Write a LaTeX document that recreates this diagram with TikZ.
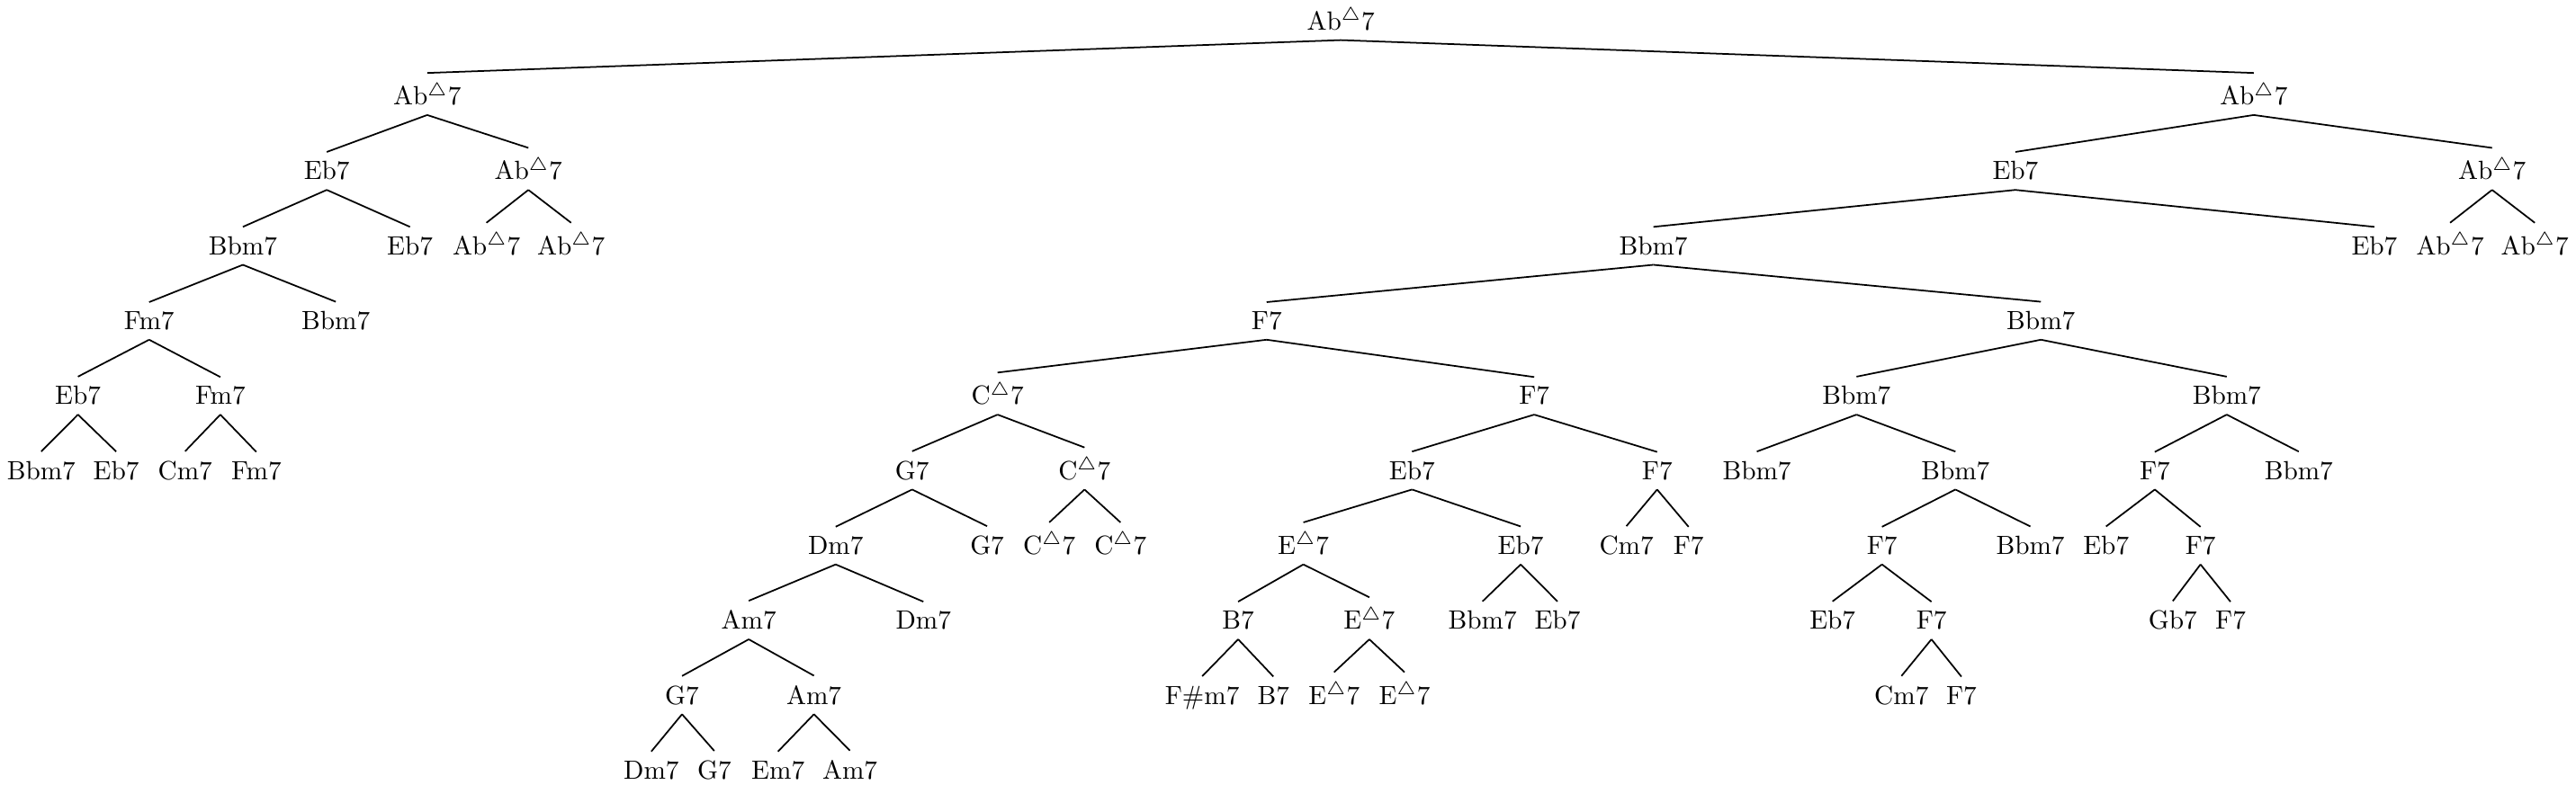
\documentclass[tikz,border=0pt]{standalone}
\usepackage{amsmath}
\usepackage{amssymb}
\usetikzlibrary{positioning}

\newcommand{\mj}{$^\triangle$}

\begin{document}
\begin{tikzpicture}[semithick]
        \tikzset{
            % Define style for chord labels
            chord/.style={
                    anchor=base,
                    inner sep=3.33pt},
            % Define style for tree branches
            ast/.style={
                    draw=black,
                    semithick},
        }
        \useasboundingbox (0,0.40) rectangle (34.37,-10.07);

        % Level 0 and 1
        \node[chord] (s0) at (17.89,0) {Ab\mj7};
        \node[chord] (s1a) at (5.70,-1) {Ab\mj7};
        \node[chord] (s1b) at (30.07,-1) {Ab\mj7};

        % Level 2
        \node[chord] (s2a) at (4.36,-2) {Eb7};
        \node[chord] (s2b) at (7.05,-2) {Ab\mj7};
        \node[chord] (s2c) at (26.89,-2) {Eb7};
        \node[chord] (s2d) at (33.25,-2) {Ab\mj7};

        % Level 3
        \node[chord] (s3a) at (3.24,-3) {Bbm7};
        \node[chord] (s3b) at (5.47,-3) {Eb7};
        \node[chord] (s3c) at (6.49,-3) {Ab\mj7};
        \node[chord] (s3d) at (7.62,-3) {Ab\mj7};
        \node[chord] (s3e) at (22.06,-3) {Bbm7};
        \node[chord] (s3f) at (31.68,-3) {Eb7};
        \node[chord] (s3g) at (32.69,-3) {Ab\mj7};
        \node[chord] (s3h) at (33.82,-3) {Ab\mj7};

        % Level 4
        \node[chord] (s4a) at (1.99,-4) {Fm7};
        \node[chord] (s4b) at (4.48,-4) {Bbm7};
        \node[chord] (s4c) at (16.90,-4) {F7};
        \node[chord] (s4d) at (27.23,-4) {Bbm7};

        % Level 5
        \node[chord] (s5a) at (1.04,-5) {Eb7};
        \node[chord] (s5b) at (2.94,-5) {Fm7};
        \node[chord] (s5c) at (13.31,-5) {C\mj7};
        \node[chord] (s5d) at (20.47,-5) {F7};
        \node[chord] (s5e) at (24.77,-5) {Bbm7};
        \node[chord] (s5f) at (29.71,-5) {Bbm7};

        % Level 6
        \node[chord] (s6a) at (0.55,-6) {Bbm7};
        \node[chord] (s6b) at (1.55,-6) {Eb7};
        \node[chord] (s6c) at (2.47,-6) {Cm7};
        \node[chord] (s6d) at (3.42,-6) {Fm7};
        \node[chord] (s6e) at (12.17,-6) {G7};
        \node[chord] (s6f) at (14.47,-6) {C\mj7};
        \node[chord] (s6g) at (18.84,-6) {Eb7};
        \node[chord] (s6h) at (22.11,-6) {F7};
        \node[chord] (s6i) at (23.44,-6) {Bbm7};
        \node[chord] (s6j) at (26.09,-6) {Bbm7};
        \node[chord] (s6k) at (28.75,-6) {F7};
        \node[chord] (s6l) at (30.67,-6) {Bbm7};

        % Level 7
        \node[chord] (s7a) at (11.15,-7) {Dm7};
        \node[chord] (s7b) at (13.17,-7) {G7};
        \node[chord] (s7c) at (14.00,-7) {C\mj7};
        \node[chord] (s7d) at (14.95,-7) {C\mj7};
        \node[chord] (s7e) at (17.39,-7) {E\mj7};
        \node[chord] (s7f) at (20.29,-7) {Eb7};
        \node[chord] (s7g) at (21.70,-7) {Cm7};
        \node[chord] (s7h) at (22.53,-7) {F7};
        \node[chord] (s7i) at (25.11,-7) {F7};
        \node[chord] (s7j) at (27.09,-7) {Bbm7};
        \node[chord] (s7k) at (28.10,-7) {Eb7};
        \node[chord] (s7l) at (29.36,-7) {F7};

        % Level 8
        \node[chord] (s8a) at (9.99,-8) {Am7};
        \node[chord] (s8b) at (12.32,-8) {Dm7};
        \node[chord] (s8c) at (16.52,-8) {B7};
        \node[chord] (s8d) at (18.27,-8) {E\mj7};
        \node[chord] (s8e) at (19.78,-8) {Bbm7};
        \node[chord] (s8f) at (20.78,-8) {Eb7};
        \node[chord] (s8g) at (24.45,-8) {Eb7};
        \node[chord] (s8h) at (25.77,-8) {F7};
        \node[chord] (s8i) at (28.99,-8) {Gb7};
        \node[chord] (s8j) at (29.76,-8) {F7};

        % Level 9
        \node[chord] (s9a) at (9.10,-9) {G7};
        \node[chord] (s9b) at (10.86,-9) {Am7};
        \node[chord] (s9c) at (16.04,-9) {F\#m7};
        \node[chord] (s9d) at (16.99,-9) {B7};
        \node[chord] (s9e) at (17.80,-9) {E\mj7};
        \node[chord] (s9f) at (18.74,-9) {E\mj7};
        \node[chord] (s9g) at (25.37,-9) {Cm7};
        \node[chord] (s9h) at (26.17,-9) {F7};

        % Level 10
        \node[chord] (s10a) at (8.69,-10) {Dm7};
        \node[chord] (s10b) at (9.53,-10) {G7};
        \node[chord] (s10c) at (10.38,-10) {Em7};
        \node[chord] (s10d) at (11.34,-10) {Am7};

        % Connect parents with their children
        \draw[ast]
        (s0.south) edge (s1a.north)
        (s0.south) edge (s1b.north)
        (s1a.south) edge (s2a.north)
        (s1a.south) edge (s2b.north)
        (s1b.south) edge (s2c.north)
        (s1b.south) edge (s2d.north)
        (s2a.south) edge (s3a.north)
        (s2a.south) edge (s3b.north)
        (s2b.south) edge (s3c.north)
        (s2b.south) edge (s3d.north)
        (s2c.south) edge (s3e.north)
        (s2c.south) edge (s3f.north)
        (s2d.south) edge (s3g.north)
        (s2d.south) edge (s3h.north)
        (s3a.south) edge (s4a.north)
        (s3a.south) edge (s4b.north)
        (s3e.south) edge (s4c.north)
        (s3e.south) edge (s4d.north)
        (s4a.south) edge (s5a.north)
        (s4a.south) edge (s5b.north)
        (s4c.south) edge (s5c.north)
        (s4c.south) edge (s5d.north)
        (s4d.south) edge (s5e.north)
        (s4d.south) edge (s5f.north)
        (s5a.south) edge (s6a.north)
        (s5a.south) edge (s6b.north)
        (s5b.south) edge (s6c.north)
        (s5b.south) edge (s6d.north)
        (s5c.south) edge (s6e.north)
        (s5c.south) edge (s6f.north)
        (s5d.south) edge (s6g.north)
        (s5d.south) edge (s6h.north)
        (s5e.south) edge (s6i.north)
        (s5e.south) edge (s6j.north)
        (s5f.south) edge (s6k.north)
        (s5f.south) edge (s6l.north)
        (s6e.south) edge (s7a.north)
        (s6e.south) edge (s7b.north)
        (s6f.south) edge (s7c.north)
        (s6f.south) edge (s7d.north)
        (s6g.south) edge (s7e.north)
        (s6g.south) edge (s7f.north)
        (s6h.south) edge (s7g.north)
        (s6h.south) edge (s7h.north)
        (s6j.south) edge (s7i.north)
        (s6j.south) edge (s7j.north)
        (s6k.south) edge (s7k.north)
        (s6k.south) edge (s7l.north)
        (s7a.south) edge (s8a.north)
        (s7a.south) edge (s8b.north)
        (s7e.south) edge (s8c.north)
        (s7e.south) edge (s8d.north)
        (s7f.south) edge (s8e.north)
        (s7f.south) edge (s8f.north)
        (s7i.south) edge (s8g.north)
        (s7i.south) edge (s8h.north)
        (s7l.south) edge (s8i.north)
        (s7l.south) edge (s8j.north)
        (s8a.south) edge (s9a.north)
        (s8a.south) edge (s9b.north)
        (s8c.south) edge (s9c.north)
        (s8c.south) edge (s9d.north)
        (s8d.south) edge (s9e.north)
        (s8d.south) edge (s9f.north)
        (s8h.south) edge (s9g.north)
        (s8h.south) edge (s9h.north)
        (s9a.south) edge (s10a.north)
        (s9a.south) edge (s10b.north)
        (s9b.south) edge (s10c.north)
        (s9b.south) edge (s10d.north);

    \end{tikzpicture}
\end{document}
